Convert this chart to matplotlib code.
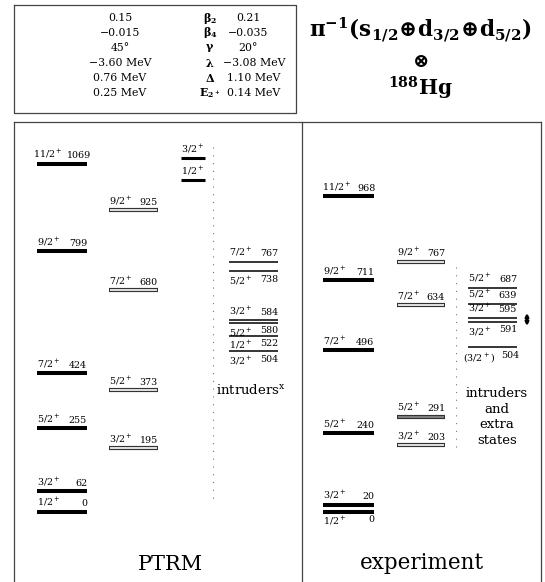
import matplotlib
matplotlib.use('Agg')
import matplotlib.pyplot as plt
from matplotlib.transforms import offset_copy

plt.rcParams['font.family'] = ['DejaVu Serif', 'DejaVu Sans']
plt.rcParams['mathtext.fontset'] = 'dejavuserif'

# ---- level data (keV) ----
ptrm_yrast_spins = ['1/2', '3/2', '5/2', '7/2', '9/2', '11/2']
ptrm_yrast_e = [0, 62, 255, 424, 799, 1069]
ptrm_side_spins = ['3/2', '5/2', '7/2', '9/2']
ptrm_side_e = [195, 373, 680, 925]
ptrm_high_spins = ['1/2', '3/2']
ptrm_high_e = [1018, 1086]
ptrm_intr_spins = ['3/2', '1/2', '5/2', '3/2', '5/2', '7/2']
ptrm_intr_e = [504, 522, 580, 584, 738, 767]

exp_yrast_spins = ['1/2', '3/2', '5/2', '7/2', '9/2', '11/2']
exp_yrast_e = [0, 20, 240, 496, 711, 968]
exp_side_spins = ['3/2', '5/2', '7/2', '9/2']
exp_side_e = [203, 291, 634, 767]
exp_intr_spins = ['(3/2', '3/2', '3/2', '5/2', '5/2']
exp_intr_e = [504, 591, 595, 639, 687]

# ---- model parameters ----
param_left = ['0.15', '\u22120.015', '45\u00b0', '\u22123.60 MeV', '0.76 MeV', '0.25 MeV']
param_names = [r'$\mathbf{\beta_2}$', r'$\mathbf{\beta_4}$', r'$\mathbf{\gamma}$',
               r'$\mathbf{\lambda}$', r'$\mathbf{\Delta}$', r'$\mathbf{E_{2^+}}$']
param_right = ['0.21', '\u22120.035', '20\u00b0', '\u22123.08 MeV', '1.10 MeV', '0.14 MeV']

W, H = 545, 582
ZERO_PX = 511.5        # pixel row of E = 0
PX_PER_KEV = 0.3255    # vertical energy scale

fig = plt.figure(figsize=(W / 100, H / 100), dpi=100)
ax = fig.add_axes([0, 0, 1, 1])
ax.set_xlim(0, W)
ax.set_ylim(-(H - ZERO_PX) / PX_PER_KEV, ZERO_PX / PX_PER_KEV)
ax.axis('off')
ov = fig.add_axes([0, 0, 1, 1], label='overlay')
ov.set_xlim(0, W)
ov.set_ylim(H, 0)
ov.axis('off')
ov.patch.set_alpha(0)

LBL_FS = 6.8


def spin_tex(s, close_paren=False):
    if close_paren:
        return r'$\mathregular{' + s + r'^+)}$'
    return r'$\mathregular{' + s + r'^+}$'


def draw_level(x0, x1, e, spin, etext, style, where='above', nudge=0.0,
               spin_dx=0.0, e_dx=0.0, paren=False):
    y = e + nudge / PX_PER_KEV
    if style == 'thick':
        ax.plot([x0, x1], [y, y], color='black', lw=2.9, solid_capstyle='butt')
    elif style == 'mid':
        ax.plot([x0, x1], [y, y], color='black', lw=2.2, solid_capstyle='butt')
    elif style == 'thin':
        ax.plot([x0, x1], [y, y], color='black', lw=1.1, solid_capstyle='butt')
    elif style in ('hollow', 'gray'):
        ax.plot([x0, x1], [y, y], color='#333333', lw=3.0, solid_capstyle='butt')
        inner = 'white' if style == 'hollow' else '#8c8c8c'
        ax.plot([x0 + 1.3, x1 - 1.3], [y, y], color=inner, lw=1.2,
                solid_capstyle='butt')
    if where == 'above':
        tr = offset_copy(ax.transData, fig=fig, x=0, y=3.5, units='dots')
        va = 'bottom'
    else:
        tr = offset_copy(ax.transData, fig=fig, x=0, y=-3.5, units='dots')
        va = 'top'
    if spin is not None:
        ax.text(x0 + spin_dx, y, spin_tex(spin, paren), transform=tr, ha='left',
                va=va, fontsize=LBL_FS)
    if etext is not None:
        ax.text(x1 + e_dx, y, etext, transform=tr, ha='right', va=va,
                fontsize=LBL_FS)


# ---- PTRM ----
for s, e in zip(ptrm_yrast_spins, ptrm_yrast_e):
    wide = len(str(e)) > 3
    draw_level(37, 87, e, s, str(e), 'thick',
               spin_dx=-4 if wide else 0, e_dx=4 if wide else 0)
for s, e in zip(ptrm_side_spins, ptrm_side_e):
    draw_level(109, 158, e, s, str(e), 'hollow')
for s, e in zip(ptrm_high_spins, ptrm_high_e):
    draw_level(181, 205, e, s, None, 'mid')
ptrm_intr_layout = {504: ('below', -4.0), 522: ('below', 6.0), 580: ('below', 0.0),
                    584: ('above', 1.2), 738: ('below', 0.0), 767: ('above', 0.0)}
for s, e in zip(ptrm_intr_spins, ptrm_intr_e):
    where, nud = ptrm_intr_layout[e]
    draw_level(229, 278, e, s, str(e), 'thin', where, nud)

# ---- experiment ----
for s, e in zip(exp_yrast_spins, exp_yrast_e):
    draw_level(323, 374, e, s, str(e), 'thick', 'below' if e == 0 else 'above',
               spin_dx=-1 if s == '11/2' else 0, e_dx=2 if s == '11/2' else 0)
for s, e in zip(exp_side_spins, exp_side_e):
    draw_level(397, 445, e, s, str(e), 'gray' if e == 291 else 'hollow')
exp_intr_layout = {504: ('below', 0.0), 591: ('below', -2.6), 595: ('above', 0.0),
                   639: ('above', 0.0), 687: ('above', 0.0)}
for s, e in zip(exp_intr_spins, exp_intr_e):
    where, nud = exp_intr_layout[e]
    paren = s.startswith('(')
    draw_level(468, 517, e, s, str(e), 'thin', where, nud,
               spin_dx=-5 if paren else 0, e_dx=2 if paren else 0, paren=paren)

# doublet marker next to the 595/591 pair
ov.annotate('', xy=(527, 313), xytext=(527, 326),
            arrowprops=dict(arrowstyle='<|-|>', color='black', lw=1.8,
                            mutation_scale=4.5, shrinkA=0, shrinkB=0))

# ---- frames and dividers ----
ov.plot([14, 296, 296, 14, 14], [5, 5, 113, 113, 5], color='#444444', lw=0.9)
ov.plot([14, 14], [H + 2, 122], color='#444444', lw=0.9)
ov.plot([14, 541], [122, 122], color='#444444', lw=0.9)
ov.plot([541, 541], [122, H + 2], color='#444444', lw=0.9)
ov.plot([302, 302], [122, H + 2], color='#444444', lw=0.9)
ov.plot([213, 213], [147, 503], color='#777777', lw=0.8, ls=(0, (1, 6)))
ov.plot([456, 456], [267, 448], color='#777777', lw=0.8, ls=(0, (1, 6)))

# ---- parameter table ----
for i, (a, n, b) in enumerate(zip(param_left, param_names, param_right)):
    yy = 18 + 15 * i
    ov.text(120, yy, a, ha='center', va='center', fontsize=7.8)
    ov.text(210, yy, n, ha='center', va='center', fontsize=8)
    bx = 248 if 'MeV' not in b else 254
    ov.text(bx, yy, b, ha='center', va='center', fontsize=7.8)

# ---- configuration title ----
ov.text(420, 30, r'$\mathbf{\pi^{-1}(s_{1/2}\!\oplus\! d_{3/2}\!\oplus\! d_{5/2})}$',
        ha='center', va='center', fontsize=15.5)
ov.text(420, 62, r'$\mathbf{\otimes}$', ha='center', va='center', fontsize=14)
ov.text(420, 88, r'$\mathbf{^{188}Hg}$', ha='center', va='center', fontsize=14.5)

# ---- column captions ----
ov.text(216, 390, r'intruders$^{\mathregular{x}}$', ha='left', va='center',
        fontsize=9.5)
ov.text(497, 417, 'intruders\nand\nextra\nstates', ha='center', va='center',
        fontsize=9.5, linespacing=1.25)
ov.text(170, 565, 'PTRM', ha='center', va='center', fontsize=15)
ov.text(422, 563, 'experiment', ha='center', va='center', fontsize=15.5)

fig.savefig('out.png', dpi=100)
